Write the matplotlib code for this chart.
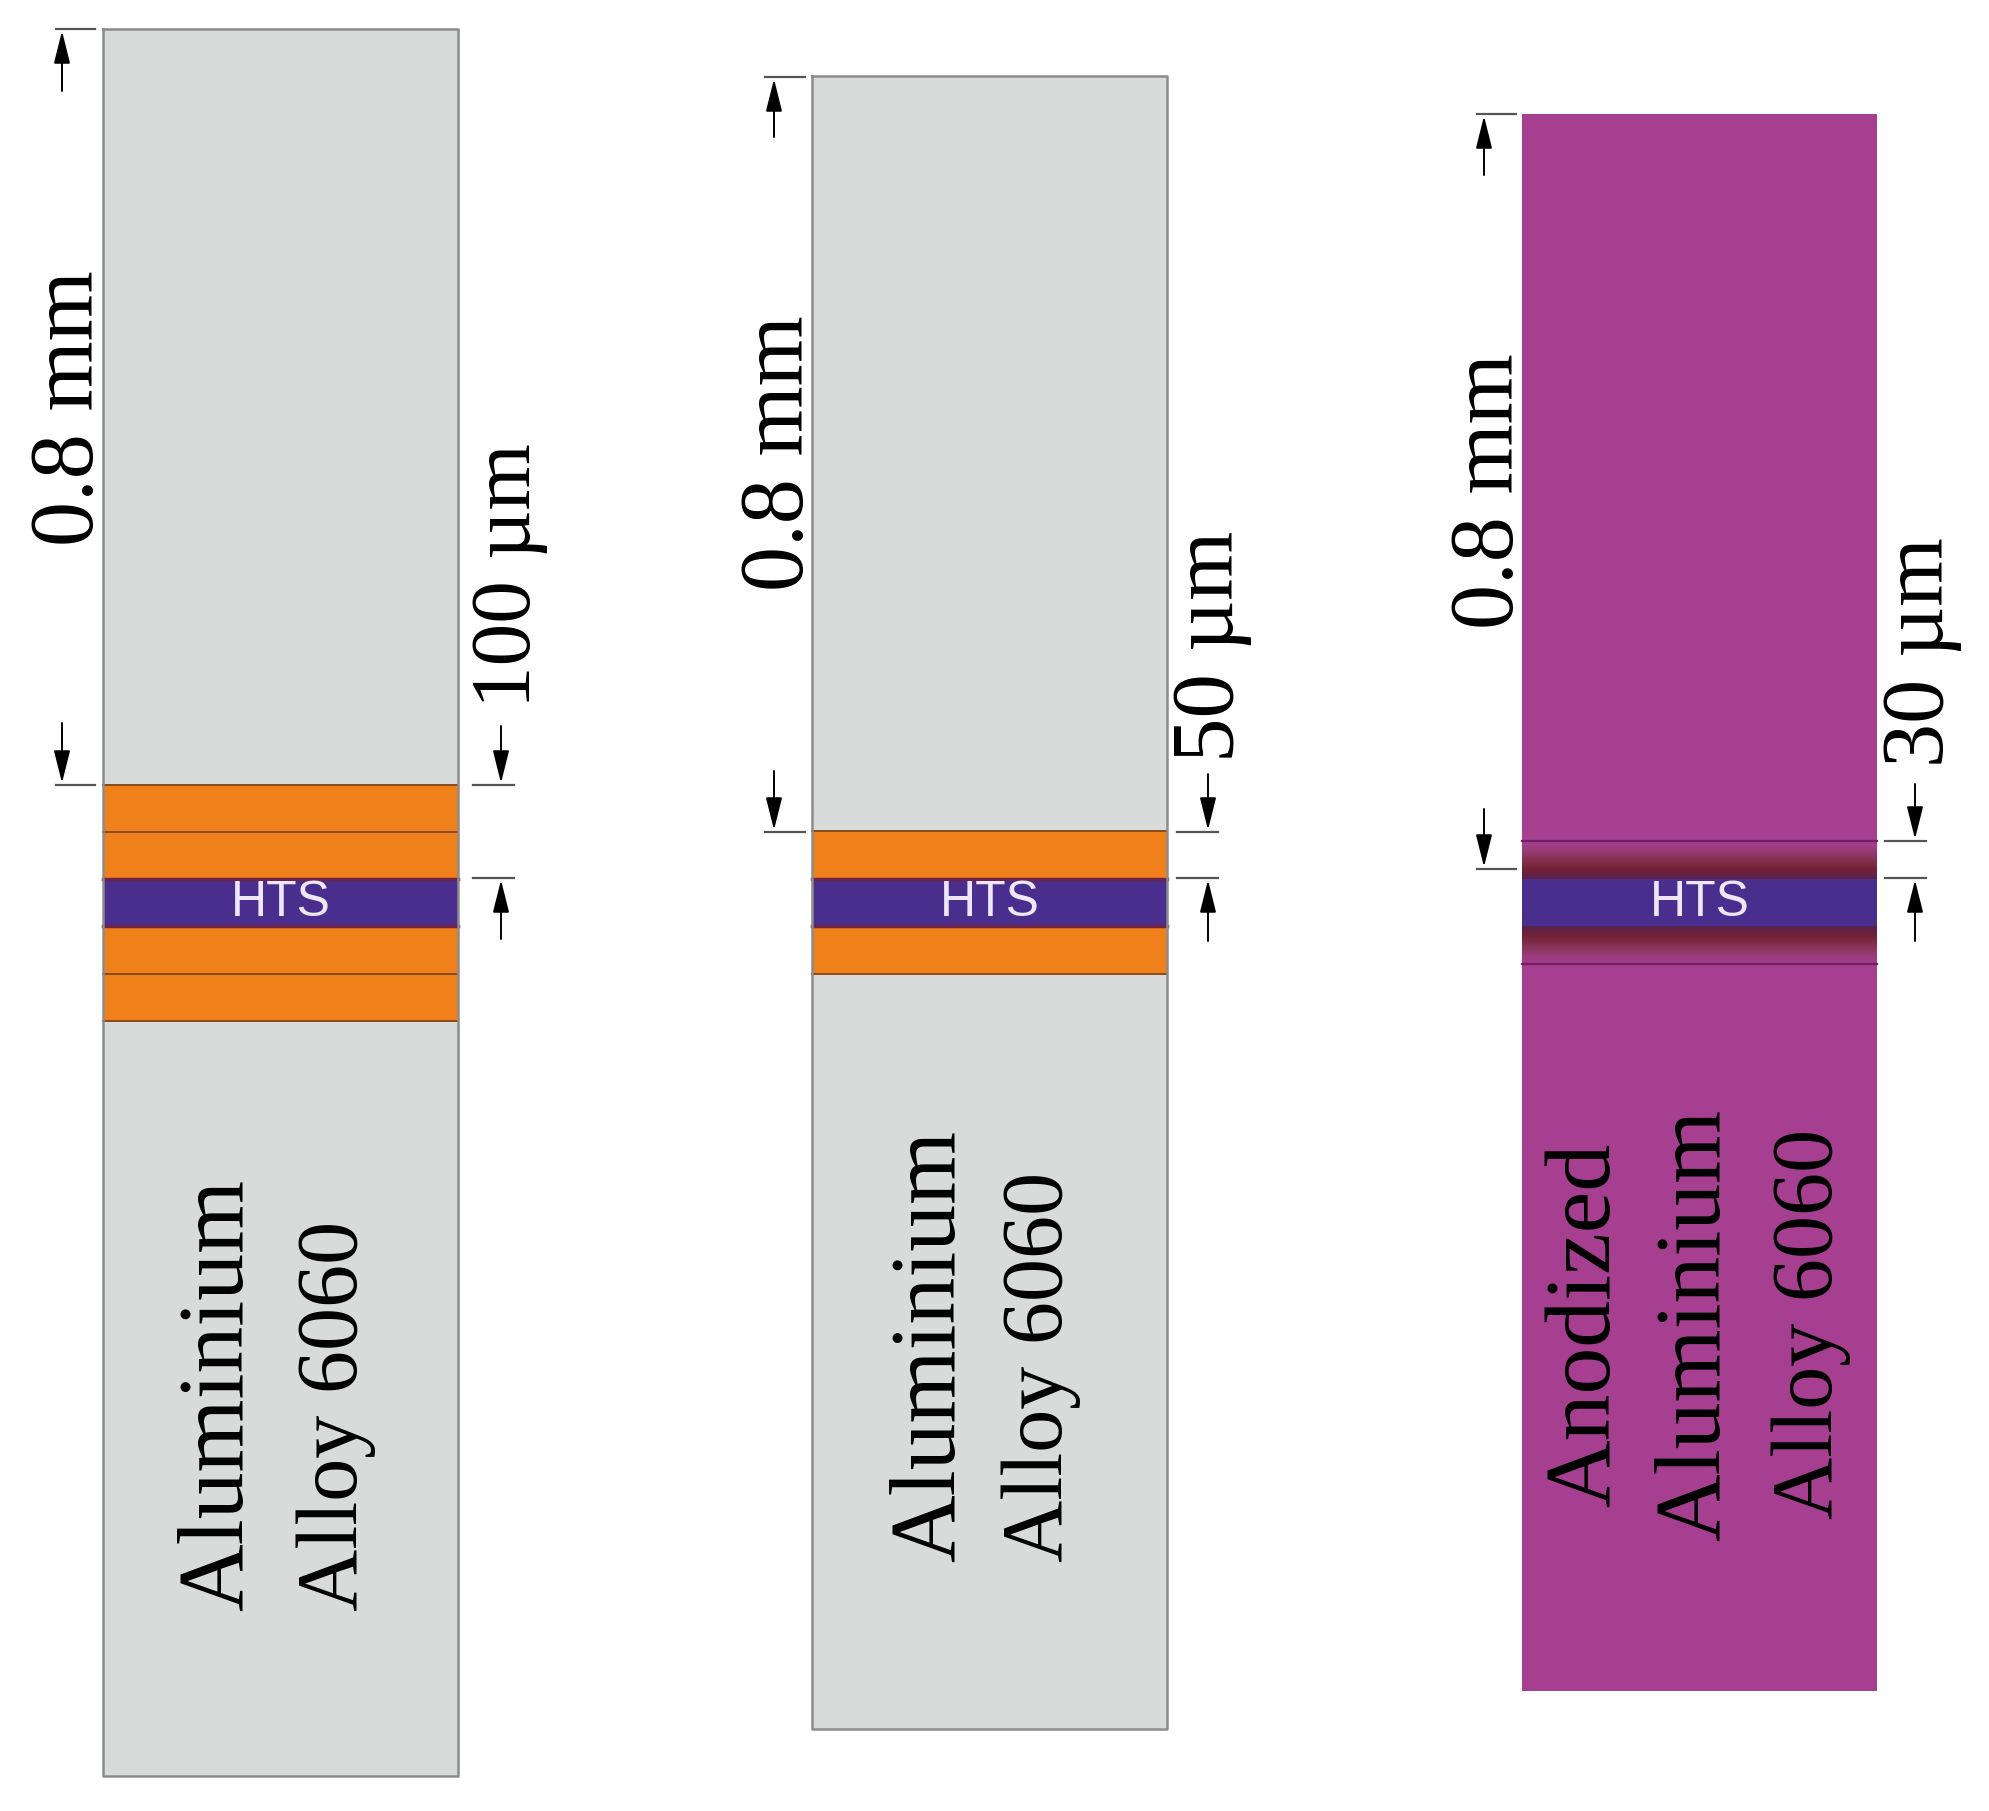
import numpy as np
import matplotlib.pyplot as plt
from matplotlib.colors import LinearSegmentedColormap

# panel outlines, in picture pixels
panelLeft = [103, 812, 1522]
panelWidth = 355
panelTop = [29, 76, 114]
panelBottom = [1776, 1729, 1691]
htsTop = 879
htsBottom = 926

# orange layers: (top, bottom) of each band, panels 1 and 2
orangeLayers = [
    [(785, 832), (832, 879), (926, 974), (974, 1021)],
    [(831, 879), (926, 974)],
    [],
]

# anodized interface zone of panel 3
interfaceTop = 841
interfaceBottom = 964
gradientStops = ['#A63F8F', '#983C78', '#86304F', '#722035', '#5A2450']

# dimension marks: (x of arrow, tick x0, tick x1, tick y, arrow start y, arrow tip y)
dimMarks = [
    (62, 56, 95, 29, 91, 31),
    (62, 56, 95, 785, 723, 783),
    (501, 473, 514, 785, 726, 783),
    (501, 473, 514, 878, 939, 880),
    (774, 765, 805, 77, 137, 79),
    (774, 765, 805, 832, 771, 830),
    (1208, 1177, 1218, 832, 774, 830),
    (1208, 1177, 1218, 878, 941, 880),
    (1484, 1477, 1516, 114, 175, 116),
    (1484, 1477, 1516, 869, 809, 867),
    (1915, 1885, 1926, 841, 784, 839),
    (1915, 1885, 1926, 878, 941, 880),
]

# rotated labels: (text, x centre, y bottom)
labels = [
    ('0.8 mm', 71, 546),
    ('100 µm', 509, 708),
    ('Aluminium', 220, 1611),
    ('Alloy 6060', 336, 1611),
    ('0.8 mm', 781, 591),
    ('50 µm', 1212, 762),
    ('Aluminium', 932, 1562),
    ('Alloy 6060', 1041, 1562),
    ('0.8 mm', 1491, 629),
    ('30 µm', 1921, 767),
    ('Anodized', 1587, 1507),
    ('Aluminium', 1697, 1541),
    ('Alloy 6060', 1811, 1519),
]
labelSizes = {'0.8 mm': 65, '100 µm': 61.5, '50 µm': 64, '30 µm': 63.5,
              'Aluminium': 67.5, 'Alloy 6060': 62, 'Anodized': 67.5}

grey = '#D9DBDB'
orange = '#F08019'
navy = '#4A2E8E'
magenta = '#A63F8F'
edge = '#8C8C8C'
darkLine = '#8A4A1C'

fig = plt.figure(figsize=(19.9, 18.11), dpi=100)
ax = fig.add_axes([0, 0, 1, 1])
ax.axis('off')

fills = [grey, grey, magenta]
for i in range(3):
    x0 = panelLeft[i]
    x1 = x0 + panelWidth
    ax.fill_between([x0, x1], panelTop[i], panelBottom[i], color=fills[i], lw=0, zorder=1)
    for top, bottom in orangeLayers[i]:
        ax.fill_between([x0, x1], top, bottom, color=orange, lw=0, zorder=2)
        ax.plot([x0, x1], [top, top], color=darkLine, lw=1.4, zorder=3)
        ax.plot([x0, x1], [bottom, bottom], color=darkLine, lw=1.4, zorder=3)

# gradient bands either side of the HTS in panel 3, darkest next to the HTS
cmap = LinearSegmentedColormap.from_list('anod', gradientStops)
x0 = panelLeft[2]
x1 = x0 + panelWidth
ramp = np.linspace(0, 1, 64).reshape(-1, 1)
ax.imshow(ramp, cmap=cmap, aspect='auto', extent=(x0, x1, htsTop, interfaceTop), zorder=2)
ax.imshow(ramp[::-1], cmap=cmap, aspect='auto', extent=(x0, x1, interfaceBottom, htsBottom), zorder=2)
ax.plot([x0, x1], [interfaceTop, interfaceTop], color='#6E1F66', lw=1.6, zorder=3)
ax.plot([x0, x1], [interfaceBottom, interfaceBottom], color='#6E1F66', lw=1.6, zorder=3)

for i in range(3):
    x0 = panelLeft[i]
    x1 = x0 + panelWidth
    ax.fill_between([x0, x1], htsTop, htsBottom, color=navy, lw=0, zorder=4)
    if i < 2:
        ax.plot([x0, x1], [htsTop, htsTop], color='#6E2348', lw=2.5, zorder=5)
        ax.plot([x0, x1], [htsBottom, htsBottom], color='#6E2348', lw=2.5, zorder=5)
        ax.plot([x0, x1, x1, x0, x0],
                [panelTop[i], panelTop[i], panelBottom[i], panelBottom[i], panelTop[i]],
                color=edge, lw=1.8, zorder=6)
    ax.text(x0 + panelWidth / 2, (htsTop + htsBottom) / 2 + 1, 'HTS', color='#EFE6F7',
            fontsize=36, family='Liberation Sans', ha='center', va='center', zorder=7)

for xa, tx0, tx1, ty, ys, yt in dimMarks:
    ax.plot([tx0, tx1], [ty, ty], color='#555555', lw=1.6, zorder=8)
    ax.annotate('', xy=(xa, yt), xytext=(xa, ys),
                arrowprops=dict(arrowstyle='-|>,head_length=1.0,head_width=0.25', mutation_scale=20,
                                color='black', lw=1.4, shrinkA=0, shrinkB=0), zorder=8)

for txt, x, y in labels:
    ax.text(x, y, txt, rotation=90, fontsize=labelSizes[txt], family='Liberation Serif', color='black',
            ha='center', va='bottom', zorder=9)

ax.set_xlim(0, 1990)
ax.set_ylim(1811, 0)
fig.savefig('out.png', dpi=100, facecolor='white')
